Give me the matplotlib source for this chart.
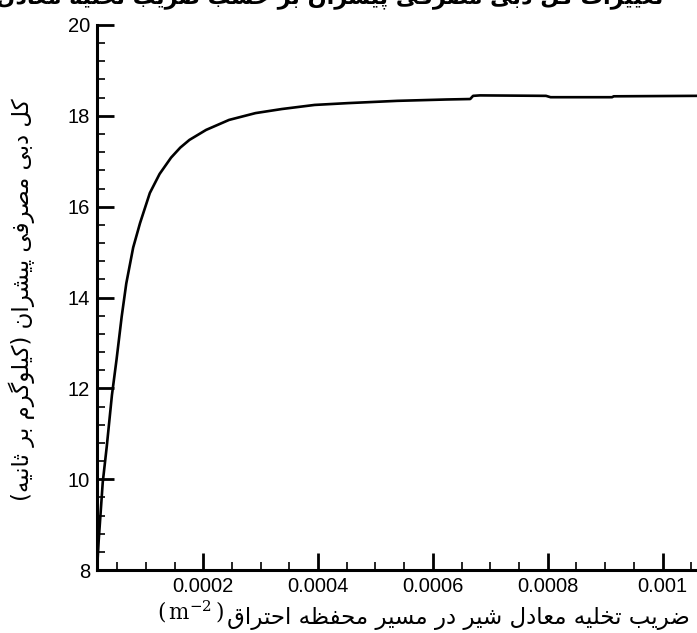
import matplotlib
matplotlib.use("Agg")
import matplotlib.pyplot as plt
from matplotlib.ticker import MultipleLocator, FixedLocator

# ---------------- data ----------------
discharge_coef = [0.000015, 0.000018, 0.000025, 0.000032, 0.000041, 0.000049,
                  0.000058, 0.000066, 0.000078, 0.000090, 0.000107, 0.000124,
                  0.000144, 0.000160, 0.000176, 0.000205, 0.000245, 0.000291,
                  0.000337, 0.000394, 0.000452, 0.000538, 0.000624, 0.000665,
                  0.000670, 0.000682, 0.000797, 0.000805, 0.000912, 0.000915,
                  0.00106]
mass_flow = [8.0, 8.66, 9.93, 10.72, 11.85, 12.63,
             13.58, 14.31, 15.10, 15.64, 16.30, 16.72,
             17.08, 17.30, 17.47, 17.69, 17.91, 18.06,
             18.15, 18.24, 18.28, 18.33, 18.36, 18.37,
             18.44, 18.45, 18.44, 18.41, 18.41, 18.43,
             18.44]
x_ticks = [0.0002, 0.0004, 0.0006, 0.0008, 0.001]
x_tick_labels = ["0.0002", "0.0004", "0.0006", "0.0008", "0.001"]
y_ticks = [8, 10, 12, 14, 16, 18, 20]
y_label_fa = "کل دبی مصرفی پیشران (کیلوگرم بر ثانیه)"
x_label_fa = "ضریب تخلیه معادل شیر در مسیر محفظه احتراق"
x_label_unit = r"$(\,\mathrm{m}^{-2}\,)$"
title_fa = "تغییرات کل دبی مصرفی پیشران بر حسب ضریب تخلیه معادل"

# ---------------- minimal Persian shaping ----------------
FORMS = {
    'ا': (0xFE8D, 0xFE8E, None, None),
    'ب': (0xFE8F, 0xFE90, 0xFE91, 0xFE92),
    'پ': (0xFB56, 0xFB57, 0xFB58, 0xFB59),
    'ت': (0xFE95, 0xFE96, 0xFE97, 0xFE98),
    'ث': (0xFE99, 0xFE9A, 0xFE9B, 0xFE9C),
    'ج': (0xFE9D, 0xFE9E, 0xFE9F, 0xFEA0),
    'ح': (0xFEA1, 0xFEA2, 0xFEA3, 0xFEA4),
    'خ': (0xFEA5, 0xFEA6, 0xFEA7, 0xFEA8),
    'د': (0xFEA9, 0xFEAA, None, None),
    'ذ': (0xFEAB, 0xFEAC, None, None),
    'ر': (0xFEAD, 0xFEAE, None, None),
    'ز': (0xFEAF, 0xFEB0, None, None),
    'س': (0xFEB1, 0xFEB2, 0xFEB3, 0xFEB4),
    'ش': (0xFEB5, 0xFEB6, 0xFEB7, 0xFEB8),
    'ص': (0xFEB9, 0xFEBA, 0xFEBB, 0xFEBC),
    'ض': (0xFEBD, 0xFEBE, 0xFEBF, 0xFEC0),
    'ط': (0xFEC1, 0xFEC2, 0xFEC3, 0xFEC4),
    'ظ': (0xFEC5, 0xFEC6, 0xFEC7, 0xFEC8),
    'ع': (0xFEC9, 0xFECA, 0xFECB, 0xFECC),
    'غ': (0xFECD, 0xFECE, 0xFECF, 0xFED0),
    'ف': (0xFED1, 0xFED2, 0xFED3, 0xFED4),
    'ق': (0xFED5, 0xFED6, 0xFED7, 0xFED8),
    'ک': (0xFB8E, 0xFB8F, 0xFB90, 0xFB91),
    'گ': (0xFB92, 0xFB93, 0xFB94, 0xFB95),
    'ل': (0xFEDD, 0xFEDE, 0xFEDF, 0xFEE0),
    'م': (0xFEE1, 0xFEE2, 0xFEE3, 0xFEE4),
    'ن': (0xFEE5, 0xFEE6, 0xFEE7, 0xFEE8),
    'ه': (0xFEE9, 0xFEEA, 0xFEEB, 0xFEEC),
    'و': (0xFEED, 0xFEEE, None, None),
    'ی': (0xFBFC, 0xFBFD, 0xFBFE, 0xFBFF),
}
MIRROR = {'(': ')', ')': '('}


def rtl(s):
    out = []
    for i, c in enumerate(s):
        if c not in FORMS:
            out.append(MIRROR.get(c, c))
            continue
        prev = s[i - 1] if i > 0 else None
        nxt = s[i + 1] if i + 1 < len(s) else None
        jp = prev in FORMS and FORMS[prev][2] is not None
        jn = nxt in FORMS and FORMS[c][2] is not None
        iso, fin, ini, med = FORMS[c]
        if jp and jn:
            g = med
        elif jp:
            g = fin
        elif jn:
            g = ini
        else:
            g = iso
        out.append(chr(g))
    return "".join(reversed(out))


plt.rcParams['font.family'] = ['Liberation Sans', 'DejaVu Sans']
plt.rcParams['mathtext.fontset'] = 'dejavuserif'

fig = plt.figure(figsize=(6.97, 6.33), dpi=100)
ax = fig.add_axes([97 / 697, 63 / 633, 1 - 97 / 697, 545 / 633])

ax.plot(discharge_coef, mass_flow, color='black', lw=1.9, solid_joinstyle='round')
ax.set_xlim(0.000015, 0.00106)
ax.set_ylim(8, 20)

ax.spines['top'].set_visible(False)
ax.spines['right'].set_visible(False)
ax.spines['left'].set_linewidth(2.2)
ax.spines['bottom'].set_linewidth(2.2)

ax.xaxis.set_major_locator(FixedLocator(x_ticks))
ax.set_xticklabels(x_tick_labels)
ax.xaxis.set_minor_locator(MultipleLocator(0.00005))
ax.yaxis.set_major_locator(FixedLocator(y_ticks))
ax.yaxis.set_minor_locator(MultipleLocator(0.4))

ax.tick_params(which='major', direction='in', length=12, width=2.0,
               labelsize=14.5, pad=5)
ax.tick_params(which='minor', direction='in', length=6, width=1.2)
ax.tick_params(axis='x', which='both', top=False)
ax.tick_params(axis='y', which='both', right=False)

# y label
fig.text(22 / 697, 1 - 300 / 633, rtl(y_label_fa), rotation=90,
         ha='center', va='center', fontsize=16.5, family=['DejaVu Sans'])

# x label (Persian part + unit)
t_fa = fig.text(690 / 697, 1 - 618 / 633, rtl(x_label_fa), ha='right',
                va='center', fontsize=16.5, family=['DejaVu Sans'])
fig.canvas.draw()
bb = t_fa.get_window_extent()
fig.text((bb.x0 - 3) / 697, 1 - 612 / 633, x_label_unit, ha='right',
         va='center', fontsize=15.5)

# clipped title at top (only its lower edge shows, as in the source image)
fig.text(330 / 697, 1 - 3 / 633, rtl(title_fa), ha='center', va='baseline',
         fontsize=16, fontweight='bold', family=['DejaVu Sans'])

fig.savefig("out.png", dpi=100)
